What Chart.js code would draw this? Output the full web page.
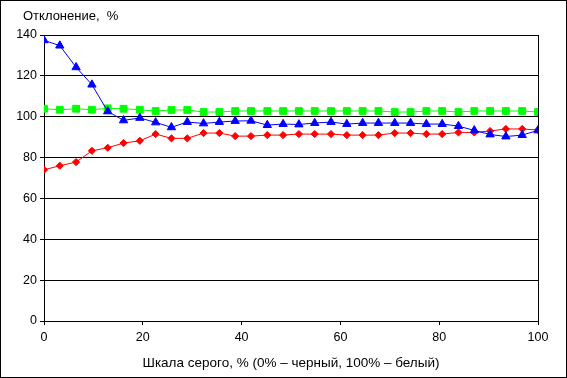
<!DOCTYPE html>
<html>
<head>
<meta charset="utf-8">
<script src="https://cdn.jsdelivr.net/npm/chart.js@4/dist/chart.umd.min.js"></script>
<style>
  html, body { margin: 0; padding: 0; background: #fff; }
  #wrap { width: 567px; height: 378px; box-sizing: border-box; border: 1px solid #000; }
  #wrap canvas { display: block; }
</style>
</head>
<body>
<div id="wrap"><canvas id="c" width="565" height="376"></canvas></div>
<script>
// grey scale steps, % (0 = black, 100 = white)
const grayLevels = [0, 3.2, 6.5, 9.7, 12.9, 16.1, 19.4, 22.6, 25.8, 29.0, 32.3, 35.5,
  38.7, 41.9, 45.2, 48.4, 51.6, 54.8, 58.1, 61.3, 64.5, 67.7, 71.0, 74.2,
  77.4, 80.6, 83.9, 87.1, 90.3, 93.5, 96.8, 100];

const blueVals = [137.4, 134.8, 124.2, 115.7, 102.6, 98.2, 99.4, 97.2, 94.8, 97.4, 96.7, 97.4,
  97.9, 98.0, 95.9, 96.4, 96.2, 96.9, 97.4, 96.4, 96.9, 96.9, 96.9, 96.9,
  96.4, 96.4, 95.4, 93.3, 91.3, 90.3, 91.0, 93.3];

const greenVals = [103.9, 103.4, 103.9, 103.4, 104.1, 103.9, 103.4, 102.8, 103.3, 103.3, 102.3, 102.3,
  102.8, 102.8, 102.8, 102.8, 102.8, 102.8, 102.8, 102.8, 102.8, 102.8, 102.3, 102.3,
  102.8, 102.8, 102.3, 102.8, 102.8, 102.8, 102.8, 102.3];

const redVals = [74.0, 76.0, 77.8, 83.3, 84.8, 87.1, 88.2, 91.5, 89.4, 89.4, 92.0, 92.0,
  90.5, 90.5, 91.0, 91.0, 91.5, 91.5, 91.5, 91.0, 91.0, 91.0, 92.0, 92.0,
  91.5, 91.5, 92.3, 92.3, 93.0, 94.0, 94.0, 93.5];

const yTitle = 'Отклонение,  %';
const xTitle = 'Шкала серого, % (0% – черный, 100% – белый)';

const FONT = '"Liberation Sans", Arial, sans-serif';

function pts(vals) {
  return grayLevels.map((x, i) => ({ x, y: vals[i] }));
}

function series(vals, color, style, r) {
  return {
    data: pts(vals),
    borderColor: color,
    backgroundColor: color,
    borderWidth: 1,
    pointStyle: style,
    pointRadius: r,
    pointBorderWidth: 1,
    pointBorderColor: color,
    pointBackgroundColor: color,
    tension: 0,
  };
}

// axis caption at the top-left, horizontal
const topCaption = {
  id: 'topCaption',
  afterDraw(chart) {
    const ctx = chart.ctx;
    ctx.save();
    ctx.font = '13px ' + FONT;
    ctx.fillStyle = '#000';
    ctx.textBaseline = 'middle';
    ctx.textAlign = 'left';
    ctx.fillText(yTitle, 22, 15);
    ctx.restore();
  }
};

new Chart(document.getElementById('c'), {
  type: 'line',
  data: {
    datasets: [
      series(blueVals, '#0000ff', 'triangle', 4.8),
      series(redVals, '#ff0000', 'rectRot', 3.6),
      series(greenVals, '#00ff00', 'rect', 4.8),
    ]
  },
  options: {
    responsive: false,
    animation: false,
    layout: { padding: { top: 34, right: 28, left: 0, bottom: 0 } },
    plugins: { legend: { display: false }, tooltip: { enabled: false } },
    scales: {
      x: {
        type: 'linear',
        min: 0, max: 100,
        afterFit: s => { s.height = 56; },
        ticks: { stepSize: 20, color: '#000', font: { family: FONT, size: 12.5 }, padding: 5, maxRotation: 0 },
        grid: {
          color: c => c.tick && c.tick.value === 100 ? '#000' : 'rgba(0,0,0,0)',
          tickColor: '#000',
          tickLength: 4,
          lineWidth: 1,
        },
        border: { display: true, color: '#000', width: 1 },
        title: { display: true, text: xTitle, color: '#000', font: { family: FONT, size: 13.5 }, padding: { top: 0, bottom: 6 } },
      },
      y: {
        min: 0, max: 140,
        afterFit: s => { s.width = 43; },
        ticks: { stepSize: 20, color: '#000', font: { family: FONT, size: 12.5 }, padding: 3 },
        grid: { color: '#000', tickColor: '#000', tickLength: 4, lineWidth: 1 },
        border: { display: true, color: '#000', width: 1 },
      }
    }
  },
  plugins: [topCaption]
});
</script>
</body>
</html>
